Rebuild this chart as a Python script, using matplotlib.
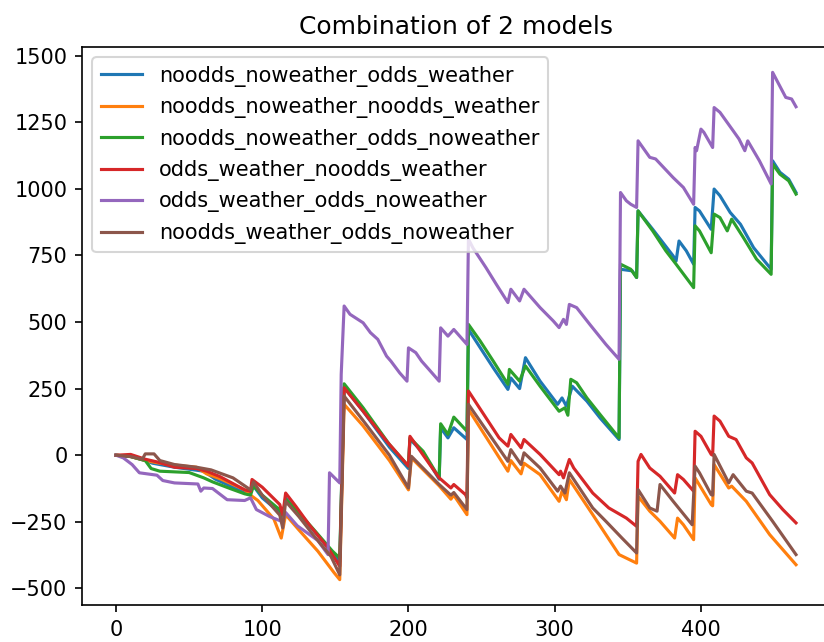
#%%
import numpy as np
import matplotlib
matplotlib.use('Agg')
import matplotlib.pyplot as plt

#%% values (index, cumulative value)
labels = ['noodds_noweather_odds_weather',
          'noodds_noweather_noodds_weather',
          'noodds_noweather_odds_noweather',
          'odds_weather_noodds_weather',
          'odds_weather_odds_noweather',
          'noodds_weather_odds_noweather']

x_blue = [0, 10, 20, 25, 40, 60, 68, 80, 90, 94, 100, 112, 114, 116, 125, 138, 148, 153, 156,
          169, 187, 200, 201, 210, 221, 222, 227, 231, 240, 241, 249, 258, 268, 270, 276, 280,
          290, 302, 305, 308, 312, 322, 331, 344, 345, 353, 356, 357, 367, 381, 383, 385, 390,
          395, 396, 399, 407, 409, 413, 420, 427, 436, 448, 449, 454, 460, 465]
y_blue = [0, -5, -20, -30, -45, -60, -90, -120, -145, -115, -160, -215, -240, -160, -220, -300, -370, -400, 255,
          165, 30, -50, 60, 10, -90, 103, 65, 103, 59, 472, 404, 328, 247, 290, 250, 366,
          278, 191, 215, 184, 259, 203, 140, 59, 698, 692, 667, 917, 848, 748, 729, 804, 767,
          717, 930, 917, 848, 999, 974, 911, 867, 779, 698, 1105, 1062, 1036, 986]

x_orange = [0, 10, 20, 30, 45, 55, 62, 72, 88, 92, 97, 108, 113, 116, 125, 138, 149, 153, 156,
            169, 187, 200, 202, 221, 229, 231, 240, 241, 268, 270, 277, 279, 290, 303, 305, 308,
            310, 326, 344, 356, 357, 365, 372, 382, 384, 388, 395, 396, 407, 408, 409, 419, 421,
            431, 447, 465]
y_orange = [0, -5, -20, -30, -40, -45, -70, -90, -130, -150, -170, -240, -311, -223, -280, -360, -440, -467, 191,
            110, -20, -130, -10, -115, -165, -150, -223, 172, -60, -20, -70, -30, -73, -173, -135, -167,
            -91, -223, -373, -405, -154, -210, -248, -311, -236, -261, -317, -85, -185, -190, -35, -123, -116,
            -173, -298, -411]

x_green = [0, 10, 20, 24, 30, 50, 60, 66, 78, 88, 92, 94, 100, 112, 114, 116, 125, 137, 148, 153, 156,
           169, 187, 200, 201, 210, 221, 222, 227, 231, 240, 241, 249, 258, 268, 269, 276, 280,
           290, 303, 307, 309, 311, 315, 322, 331, 344, 345, 352, 356, 357, 367, 376, 383, 395,
           396, 399, 407, 409, 413, 418, 421, 429, 438, 448, 449, 454, 460, 465]
y_green = [0, -5, -20, -50, -60, -65, -85, -100, -125, -145, -150, -115, -150, -205, -230, -165, -215, -290, -360, -386, 268,
           178, 40, -41, 65, 15, -85, 118, 78, 143, 90, 491, 429, 353, 266, 322, 278, 335,
           259, 165, 178, 150, 285, 272, 215, 153, 65, 717, 698, 667, 917, 842, 767, 717, 629,
           861, 842, 760, 905, 892, 842, 886, 817, 736, 679, 1093, 1055, 1030, 980]

x_red = [0, 10, 20, 28, 40, 55, 62, 71, 88, 92, 93, 100, 112, 114, 116, 123, 132, 145, 153, 156,
         169, 185, 200, 201, 221, 229, 231, 239, 240, 241, 262, 268, 270, 277, 279, 290, 303, 304,
         306, 310, 313, 326, 337, 349, 356, 357, 359, 365, 372, 382, 384, 388, 395, 396, 400,
         407, 408, 409, 413, 419, 424, 431, 435, 447, 456, 465]
y_red = [0, 3, -15, -25, -45, -50, -60, -80, -130, -135, -91, -120, -185, -225, -142, -192, -260, -348, -417, 253,
         165, 53, -41, 71, -85, -123, -110, -148, -160, 241, 65, 34, 78, 28, 59, 3, -73, -60,
         -85, -16, -48, -142, -198, -236, -267, -23, 3, -48, -79, -142, -73, -91, -135, 90, 71,
         3, 0, 147, 128, 71, 59, -10, -29, -148, -204, -254]

x_purple = [0, 5, 11, 16, 28, 32, 40, 56, 58, 60, 66, 76, 88, 92, 96, 105, 114, 116, 124, 138, 145, 146,
            153, 154, 156, 160, 169, 174, 179, 185, 188, 194, 199, 200, 205, 209, 214, 221, 222,
            227, 231, 240, 241, 244, 253, 260, 268, 270, 276, 279, 290, 299, 303, 306, 308, 310,
            315, 324, 335, 344, 345, 349, 352, 356, 357, 365, 369, 381, 388, 395, 396, 397, 400,
            402, 408, 409, 413, 422, 426, 430, 432, 440, 448, 449, 458, 462, 465]
y_purple = [0, -10, -35, -66, -75, -95, -104, -108, -135, -123, -125, -167, -170, -160, -204, -230, -250, -215, -265, -320, -373, -66,
            -104, 303, 560, 529, 497, 460, 435, 372, 353, 309, 278, 403, 385, 353, 322, 278, 478,
            447, 472, 416, 811, 779, 704, 642, 573, 623, 579, 623, 554, 504, 479, 510, 491, 566,
            554, 491, 416, 360, 986, 955, 942, 930, 1180, 1118, 1112, 1042, 1005, 942, 1155, 1143, 1224,
            1212, 1155, 1305, 1287, 1218, 1187, 1143, 1180, 1105, 1018, 1437, 1343, 1337, 1308]

x_brown = [0, 10, 18, 20, 26, 30, 40, 55, 65, 80, 92, 94, 100, 112, 114, 116, 125, 135, 147, 153, 156,
           169, 187, 200, 202, 221, 229, 231, 240, 241, 268, 270, 277, 279, 290, 302, 304, 307,
           310, 326, 335, 346, 356, 357, 365, 370, 372, 381, 394, 396, 399, 407, 408, 409, 419,
           422, 431, 435, 449, 465]
y_brown = [0, -5, -15, 5, 5, -20, -35, -45, -55, -85, -130, -100, -150, -225, -273, -173, -230, -300, -380, -449, 222,
           130, 0, -123, -4, -110, -150, -140, -204, 191, -23, 21, -35, 9, -48, -135, -116, -142,
           -66, -198, -248, -311, -367, -129, -198, -210, -110, -173, -261, -41, -66, -148, -150, 3, -104,
           -73, -135, -142, -248, -373]

#%%
def plot_models(out_file):
    xs = [x_blue, x_orange, x_green, x_red, x_purple, x_brown]
    ys = [y_blue, y_orange, y_green, y_red, y_purple, y_brown]

    fig = plt.figure(figsize=(824/150, 642/150), dpi=150)
    # right spine falls just outside the saved picture, as in the reference
    ax = fig.add_axes([82/824, 37/642, 748/824, 558/642])

    for i in range(len(labels)):
        ax.plot(np.array(xs[i]), np.array(ys[i]), label=labels[i])

    ax.set_yticks([-500, -250, 0, 250, 500, 750, 1000, 1250, 1500])
    ax.set_title('Combination of 2 models')
    ax.legend(loc='upper left')

    fig.savefig(out_file, dpi=150)
    return

#%%
if __name__ == "__main__":
    plot_models('out.png')
